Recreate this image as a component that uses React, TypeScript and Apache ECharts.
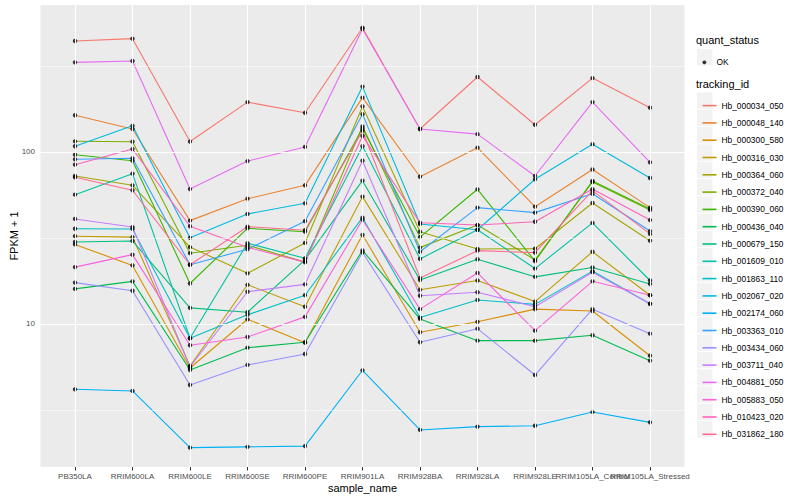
import React, { useEffect, useRef } from "react";
import * as echarts from "echarts";

const categories = [
  "PB350LA", "RRIM600LA", "RRIM600LE", "RRIM600SE", "RRIM600PE", "RRIM901LA",
  "RRIM928BA", "RRIM928LA", "RRIM928LE", "RRIM105LA_Control", "RRIM105LA_Stressed",
];

const trackingIds = [
  "Hb_000034_050", "Hb_000048_140", "Hb_000300_580", "Hb_000316_030", "Hb_000364_060",
  "Hb_000372_040", "Hb_000390_060", "Hb_000436_040", "Hb_000679_150", "Hb_001609_010",
  "Hb_001863_110", "Hb_002067_020", "Hb_002174_060", "Hb_003363_010", "Hb_003434_060",
  "Hb_003711_040", "Hb_004881_050", "Hb_005883_050", "Hb_010423_020", "Hb_031862_180",
];

const trackingColors = [
  "#F8766D", "#EA8331", "#D89000", "#C09B00", "#A3A500", "#7CAE00", "#39B600", "#00BB4E",
  "#00BF7D", "#00C1A3", "#00BFC4", "#00BAE0", "#00B0F6", "#35A2FF", "#9590FF", "#C77CFF",
  "#E76BF3", "#FA62DB", "#FF62BC", "#FF6C91",
];

// FPKM + 1 per sample (same order as categories)
const hb000034_050 = [442, 456, 115, 195, 169, 528, 136, 273, 144, 269, 181];
const hb000048_140 = [163.5, 136, 39.9, 53.5, 64.0, 207, 71.8, 106, 48.1, 79.1, 47.5];
const hb000300_580 = [29.0, 21.9, 5.55, 10.65, 7.79, 33.0, 8.95, 10.3, 12.2, 11.9, 6.54];
const hb000316_030 = [32.4, 32.0, 5.7, 16.9, 12.6, 55.0, 15.8, 17.9, 13.5, 26.3, 14.7];
const hb000364_060 = [72.5, 64.0, 28.0, 19.7, 29.6, 184, 34.4, 27.3, 27.4, 50.5, 30.5];
const hb000372_040 = [115.4, 114.8, 25.8, 28.7, 22.9, 141, 27.8, 37.6, 23.6, 66.9, 46.0];
const hb000390_060 = [96.4, 89.0, 17.2, 36.0, 34.4, 137, 32.0, 60.7, 23.2, 67.8, 46.6];
const hb000436_040 = [16.0, 17.7, 5.4, 7.28, 7.83, 26.8, 10.7, 8.0, 8.0, 8.6, 6.12];
const hb000679_150 = [30.0, 30.4, 12.4, 11.7, 23.6, 68.1, 18.0, 23.8, 18.8, 21.3, 17.1];
const hb001609_010 = [56.5, 74.8, 8.26, 29.5, 24.1, 108, 23.9, 35.3, 21.0, 38.7, 17.9];
const hb001863_110 = [35.8, 35.7, 8.26, 11.3, 14.7, 41.5, 10.9, 13.8, 13.0, 20.3, 13.1];
const hb002067_020 = [108, 142, 31.7, 43.6, 50.3, 240, 38.1, 35.3, 69.4, 111, 70.6];
const hb002174_060 = [4.17, 4.08, 1.91, 1.93, 1.95, 5.38, 2.42, 2.53, 2.56, 3.08, 2.68];
const hb003363_010 = [90.7, 91.9, 22.1, 27.2, 39.6, 166, 26.3, 47.5, 44.4, 57.2, 34.7];
const hb003434_060 = [17.4, 15.6, 4.42, 5.78, 6.69, 26.1, 7.83, 9.39, 5.05, 12.2, 8.78];
const hb003711_040 = [40.8, 36.6, 5.62, 15.4, 17.0, 89.0, 14.6, 15.3, 12.6, 20.0, 13.1];
const hb004881_050 = [332, 338, 60.9, 88.6, 107, 519, 136, 127, 72.5, 195, 87.1];
const hb005883_050 = [21.4, 25.3, 7.52, 8.4, 11.0, 40.4, 12.2, 19.8, 9.14, 17.7, 14.7];
const hb010423_020 = [84.4, 104, 37.0, 27.9, 22.9, 124, 38.8, 37.6, 39.3, 60.9, 40.2];
const hb031862_180 = [71.3, 59.9, 22.1, 36.8, 35.1, 133, 18.5, 26.7, 26.0, 59.6, 33.4];

const trackingValues = [
  hb000034_050, hb000048_140, hb000300_580, hb000316_030, hb000364_060,
  hb000372_040, hb000390_060, hb000436_040, hb000679_150, hb001609_010,
  hb001863_110, hb002067_020, hb002174_060, hb003363_010, hb003434_060,
  hb003711_040, hb004881_050, hb005883_050, hb010423_020, hb031862_180,
];

const yMajorBreaks = [10, 100];
const yMinorBreaks = [3.1623, 31.623, 316.23];
const quantStatus = ["OK"];

const FONT = "'Liberation Sans', Arial, Helvetica, sans-serif";

export default function App() {
  const ref = useRef<HTMLDivElement>(null);

  useEffect(() => {
    if (!ref.current) return;
    const chart = echarts.init(ref.current, undefined, { renderer: "svg" });

    const xIdx = categories.map((_, i) => i);
    // labels split over two axes so that neighbouring (overlapping) labels are all kept
    const xIdxEven = xIdx.filter((i) => i % 2 === 0);
    const xIdxOdd = xIdx.filter((i) => i % 2 === 1);

    const lineSeries = trackingIds.map((id, s) => ({
      name: id,
      type: "line",
      z: 2,
      data: trackingValues[s].map((v, i) => [i, v]),
      symbol: "none",
      color: trackingColors[s],
      lineStyle: { color: trackingColors[s], width: 1.1 },
      itemStyle: { color: trackingColors[s] },
      emphasis: { disabled: true },
    }));

    const allPoints: number[][] = [];
    trackingValues.forEach((vals) => vals.forEach((v, i) => allPoints.push([i, v])));

    const gridLineSeries = {
      name: "__grid",
      type: "line",
      z: 1,
      data: [[-0.6, 10]],
      symbol: "none",
      lineStyle: { width: 0, opacity: 0 },
      silent: true,
      markLine: {
        silent: true,
        symbol: ["none", "none"],
        label: { show: false },
        emphasis: { disabled: true },
        data: [
          ...yMinorBreaks.map((v) => ({ yAxis: v, lineStyle: { color: "#FFFFFF", width: 0.55, type: "solid" } })),
          ...yMajorBreaks.map((v) => ({ yAxis: v, lineStyle: { color: "#FFFFFF", width: 1.1, type: "solid" } })),
          ...xIdx.map((v) => ({ xAxis: v, lineStyle: { color: "#FFFFFF", width: 1.1, type: "solid" } })),
        ],
      },
    };

    const gridBox = {
      left: 40.5,
      top: 5,
      width: 644,
      height: 462,
      containLabel: false,
      outerBoundsMode: "none",
    };
    const xLabelStyle = {
      formatter: (v: number) => categories[Math.round(v)] ?? "",
      fontSize: 8,
      color: "#4D4D4D",
      margin: 5.5,
      showMinLabel: true,
      showMaxLabel: true,
      hideOverlap: false,
      fontFamily: FONT,
    };

    const option = {
      animation: false,
      backgroundColor: "#FFFFFF",
      textStyle: { fontFamily: FONT },
      grid: [
        { ...gridBox, show: true, backgroundColor: "#EBEBEB", borderWidth: 0 },
        { ...gridBox, show: false },
      ],
      xAxis: [
        {
          type: "value",
          gridIndex: 0,
          min: -0.6,
          max: 10.6,
          splitLine: { show: false },
          axisLine: { show: false },
          axisTick: {
            show: true,
            customValues: xIdx,
            length: 3.5,
            lineStyle: { color: "#333333", width: 1 },
          },
          axisLabel: { ...xLabelStyle, customValues: xIdxEven },
          name: "sample_name",
          nameLocation: "middle",
          nameGap: 15.5,
          nameMoveOverlap: false,
          nameTextStyle: { fontSize: 11, color: "#000000", fontFamily: FONT },
        },
        {
          type: "value",
          gridIndex: 1,
          min: -0.6,
          max: 10.6,
          splitLine: { show: false },
          axisLine: { show: false },
          axisTick: { show: false },
          axisLabel: { ...xLabelStyle, customValues: xIdxOdd },
        },
      ],
      yAxis: [
        {
          type: "log",
          gridIndex: 0,
          logBase: 10,
          min: 1.474,
          max: 715.6,
          splitLine: { show: false },
          minorSplitLine: { show: false },
          axisLine: { show: false },
          axisTick: {
            show: true,
            customValues: yMajorBreaks,
            length: 3.5,
            lineStyle: { color: "#333333", width: 1 },
          },
          axisLabel: {
            customValues: yMajorBreaks,
            fontSize: 8,
            color: "#4D4D4D",
            margin: 5.5,
            showMinLabel: true,
            showMaxLabel: true,
            fontFamily: FONT,
          },
          name: "FPKM + 1",
          nameLocation: "middle",
          nameGap: 21.5,
          nameMoveOverlap: false,
          nameTextStyle: { fontSize: 11, color: "#000000", fontFamily: FONT },
        },
        {
          type: "log",
          gridIndex: 1,
          logBase: 10,
          min: 1.474,
          max: 715.6,
          show: false,
        },
      ],
      legend: [
        {
          data: quantStatus,
          orient: "vertical",
          left: 697.5,
          top: 48.7,
          itemWidth: 14,
          itemHeight: 3.8,
          itemGap: 0,
          icon: "circle",
          selectedMode: false,
          textStyle: { fontSize: 8.4, color: "#000000", lineHeight: 17.3, fontFamily: FONT },
        },
        {
          data: trackingIds,
          orient: "vertical",
          left: 697.5,
          top: 91.95,
          itemWidth: 14,
          itemHeight: 1.6,
          itemGap: 0,
          icon: "rect",
          selectedMode: false,
          textStyle: { fontSize: 8.4, color: "#000000", lineHeight: 17.3, fontFamily: FONT },
        },
      ],
      graphic: [
        {
          type: "text",
          left: 696,
          top: 34,
          style: { text: "quant_status", fontSize: 11, fill: "#000000", fontFamily: FONT },
        },
        {
          type: "text",
          left: 696,
          top: 78.5,
          style: { text: "tracking_id", fontSize: 11, fill: "#000000", fontFamily: FONT },
        },
        {
          type: "rect",
          shape: { x: 697, y: 49.15, width: 15.5, height: 16.3 },
          style: { fill: "#F2F2F2" },
          z: -1,
        },
        ...trackingIds.map((_, i) => ({
          type: "rect",
          shape: { x: 697, y: 92.45 + 17.3 * i, width: 15.5, height: 16.3 },
          style: { fill: "#F2F2F2" },
          z: -1,
        })),
      ],
      series: [
        gridLineSeries,
        ...lineSeries,
        {
          name: "OK",
          type: "scatter",
          z: 3,
          data: allPoints,
          symbol: "circle",
          symbolSize: 4.4,
          color: "#000000",
          itemStyle: { color: "#000000" },
          emphasis: { disabled: true },
        },
      ],
    };

    chart.setOption(option as any);
    return () => chart.dispose();
  }, []);

  return (
    <div
      ref={ref}
      style={{ position: "fixed", left: 0, top: 0, width: 800, height: 500 }}
    />
  );
}
